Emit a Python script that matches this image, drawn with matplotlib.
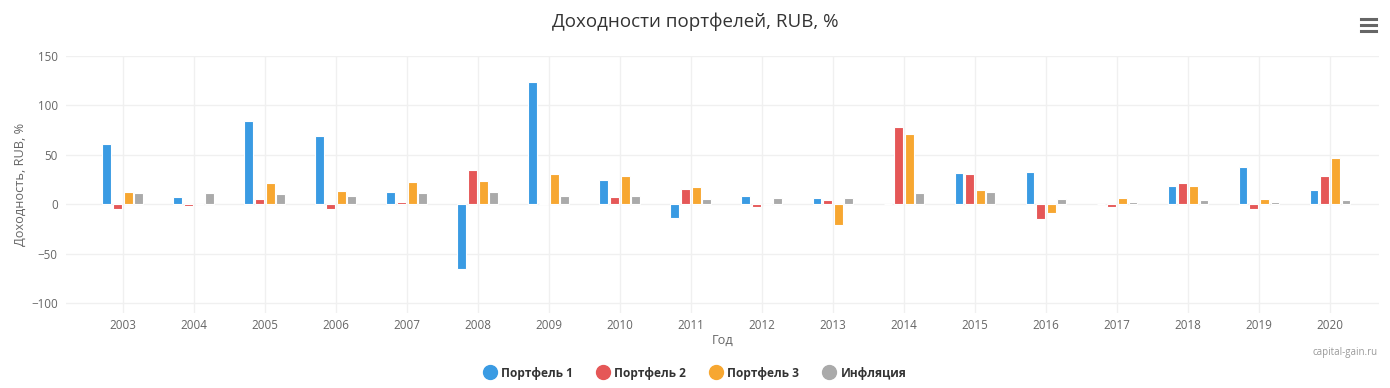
import matplotlib
matplotlib.use('Agg')
import matplotlib.pyplot as plt
import numpy as np
from matplotlib.lines import Line2D

# данные читаем с картинки
years = ['2003', '2004', '2005', '2006', '2007', '2008', '2009', '2010', '2011',
         '2012', '2013', '2014', '2015', '2016', '2017', '2018', '2019', '2020']
portfolio_1 = [60.6, 7.1, 83.8, 68.7, 12.1, -65.7, 124.2, 24.2, -14.1,
               8.1, 6.1, 0, 31.3, 32.3, 0, 18.2, 37.4, 14.1]
portfolio_2 = [-5.0, -1.7, 5.1, -5.0, 2.0, 34.3, 1.0, 7.1, 15.2,
               -3.0, 4.0, 77.8, 30.3, -15.2, -3.0, 21.2, -5.0, 28.3]
portfolio_3 = [12.1, 0, 21.2, 13.1, 22.2, 23.2, 30.3, 28.3, 17.2,
               0, -21.2, 70.7, 14.1, -9.1, 6.1, 18.2, 5.1, 46.5]
inflation = [11.1, 11.1, 10.1, 8.1, 11.1, 12.1, 8.1, 8.1, 5.1,
             6.1, 6.1, 11.1, 12.1, 5.1, 2.0, 4.0, 2.0, 4.0]

series = [('Портфель 1', portfolio_1, '#3a9be3'),
          ('Портфель 2', portfolio_2, '#e55757'),
          ('Портфель 3', portfolio_3, '#f7a731'),
          ('Инфляция', inflation, '#aaaaaa')]

plt.rcParams['font.family'] = ['Open Sans', 'DejaVu Sans']

fig = plt.figure(figsize=(13.9, 3.88), dpi=100)
ax = fig.add_axes([66 / 1390, 75 / 388, (1379 - 66) / 1390, (313 - 56) / 388])

x = np.arange(len(years))
step = 0.15
for i, (name, vals, color) in enumerate(series):
    ax.bar(x + (i - 1.5) * step, vals, width=0.125, color=color,
           edgecolor='white', linewidth=0.8, zorder=3)

ax.set_xlim(-0.8, 17.69)
ax.set_ylim(-110, 150)
ax.set_yticks([-100, -50, 0, 50, 100, 150])
ax.set_xticks(x)
ax.set_xticklabels(years)
ax.grid(True, color='#f0f0f0', linewidth=1, zorder=0)
for s in ax.spines.values():
    s.set_visible(False)
ax.tick_params(length=0, colors='#666666', labelsize=8.4)
ax.tick_params(axis='y', pad=6)
ax.tick_params(axis='x', pad=4)

ax.set_ylabel('Доходность, RUB, %', color='#666666', fontsize=9.2, labelpad=3)
ax.set_xlabel('Год', color='#666666', fontsize=9.2, labelpad=2)

fig.text(0.5, 1 - 22 / 388, 'Доходности портфелей, RUB, %', ha='center', va='center',
         fontsize=13.5, color='#333333')

# легенда
handles = [Line2D([], [], marker='o', linestyle='', markersize=10,
                  markerfacecolor=c, markeredgecolor=c) for _, _, c in series]
fig.legend(handles, [n for n, _, _ in series], loc='center', ncol=4,
           bbox_to_anchor=(0.5, 1 - 373 / 388), frameon=False,
           prop={'weight': 'bold', 'size': 8.6}, labelcolor='#333333',
           handletextpad=0.45, columnspacing=2.0, handlelength=1.0)

fig.text(1378 / 1390, 1 - 352 / 388, 'capital-gain.ru', ha='right', va='center',
         fontsize=7, color='#999999')

# кнопка меню
for yy in [19, 25, 31]:
    fig.add_artist(Line2D([1361 / 1390, 1376 / 1390], [1 - yy / 388, 1 - yy / 388],
                          color='#666666', linewidth=2.2, transform=fig.transFigure))

plt.savefig('out.png', dpi=100)
